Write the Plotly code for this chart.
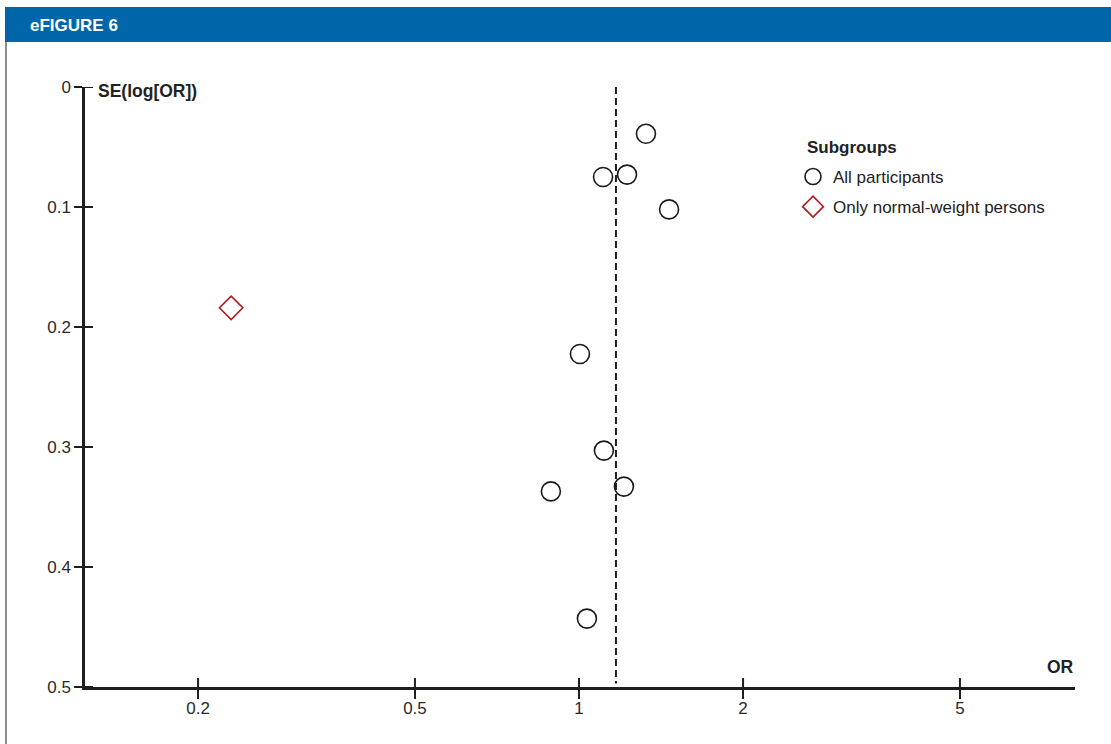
import plotly.graph_objects as go

# ---- data ----
all_or = [1.327, 1.107, 1.225, 1.463, 1.004, 1.111, 1.209, 0.888, 1.034]
all_se = [0.039, 0.075, 0.073, 0.102, 0.2225, 0.303, 0.333, 0.337, 0.443]
nw_or = [0.230]
nw_se = [0.184]
pooled_or = 1.169
x_tickvals = [0.2, 0.5, 1, 2, 5]
x_ticktext = ["0.2", "0.5", "1", "2", "5"]
y_tickvals = [0, 0.1, 0.2, 0.3, 0.4, 0.5]
y_ticktext = ["0", "0.1", "0.2", "0.3", "0.4", "0.5"]

W, H = 1111, 744
L, R, T, B = 85, 36, 87, 57
PW, PH = W - L - R, H - T - B

def px(x):
    return (x - L) / PW

def py(y):
    return 1 - (y - T) / PH

FONT = "Liberation Sans, Arial, sans-serif"
AX = "#1e1e1e"

fig = go.Figure()
fig.add_trace(go.Scatter(
    x=all_or, y=all_se, mode="markers", name="All participants",
    legendgroup="a",
    marker=dict(symbol="circle-open", size=19, color="#1a1a1a", line=dict(width=1.6, color="#1a1a1a")),
))
fig.add_trace(go.Scatter(
    x=nw_or, y=nw_se, mode="markers", name="Only normal-weight persons",
    legendgroup="b",
    marker=dict(symbol="diamond-open", size=18, color="#b0191e", line=dict(width=1.6, color="#b0191e")),
))

xr = [(L - 579) / 545, (W - R - 579) / 545]
tickfont = dict(family=FONT, size=17, color="#2a2a2a")
fig.update_layout(
    width=W, height=H,
    margin=dict(l=L, r=R, t=T, b=B),
    paper_bgcolor="white", plot_bgcolor="white",
    xaxis=dict(type="log", range=xr, tickvals=x_tickvals, ticktext=x_ticktext,
               showgrid=False, zeroline=False, showline=True, linecolor=AX, linewidth=2.5,
               ticks="outside", ticklen=9, tickwidth=2, tickcolor=AX, tickfont=tickfont,
               ticklabelstandoff=-5),
    yaxis=dict(range=[0.5, 0], tickvals=y_tickvals, ticktext=y_ticktext,
               showgrid=False, zeroline=False, showline=True, linecolor=AX, linewidth=2.5,
               ticks="outside", ticklen=8, tickwidth=2, tickcolor=AX, tickfont=tickfont),
    showlegend=True,
    legend=dict(x=px(793), y=py(159), xanchor="left", yanchor="top",
                bgcolor="rgba(0,0,0,0)", tracegroupgap=5,
                font=dict(family=FONT, size=17, color="#222")),
)

# inner half of the crossing tick marks
for v in x_tickvals:
    fig.add_shape(type="line", xref="x", yref="paper", x0=v, x1=v, y0=0, y1=9 / PH,
                  line=dict(color=AX, width=2))
for v in y_tickvals:
    fig.add_shape(type="line", xref="paper", yref="y", x0=0, x1=8 / PW, y0=v, y1=v,
                  line=dict(color=AX, width=2))

# header bar and frame
fig.add_shape(type="rect", xref="paper", yref="paper", x0=px(5), x1=px(W + 2), y0=py(42), y1=py(7),
              fillcolor="#0066a9", line=dict(width=0), layer="below")
fig.add_shape(type="line", xref="paper", yref="paper", x0=px(6), x1=px(6), y0=py(42), y1=py(H + 2),
              line=dict(color="#444444", width=1.2))
fig.add_annotation(text="<b>eFIGURE 6</b>", xref="paper", yref="paper", x=px(28), y=py(25),
                   xanchor="left", yanchor="middle", showarrow=False,
                   font=dict(family=FONT, size=17, color="white"))

# pooled estimate line
fig.add_shape(type="line", xref="x", yref="y", x0=pooled_or, x1=pooled_or, y0=0, y1=0.497,
              line=dict(color="#1e1e1e", width=2, dash="7px,4px"))

# axis titles and legend heading
fig.add_annotation(text="<b>SE(log[OR])</b>", xref="paper", yref="paper", x=px(96), y=py(91),
                   xanchor="left", yanchor="middle", showarrow=False,
                   font=dict(family=FONT, size=17.5, color="#222"))
fig.add_annotation(text="<b>OR</b>", xref="paper", yref="paper", x=px(1076), y=py(667),
                   xanchor="right", yanchor="middle", showarrow=False,
                   font=dict(family=FONT, size=17.5, color="#222"))
fig.add_annotation(text="<b>Subgroups</b>", xref="paper", yref="paper", x=px(805), y=py(147),
                   xanchor="left", yanchor="middle", showarrow=False,
                   font=dict(family=FONT, size=17, color="#222"))

fig.write_html("out.html", config={"displayModeBar": False},
               post_script="document.body.style.margin='0';")
